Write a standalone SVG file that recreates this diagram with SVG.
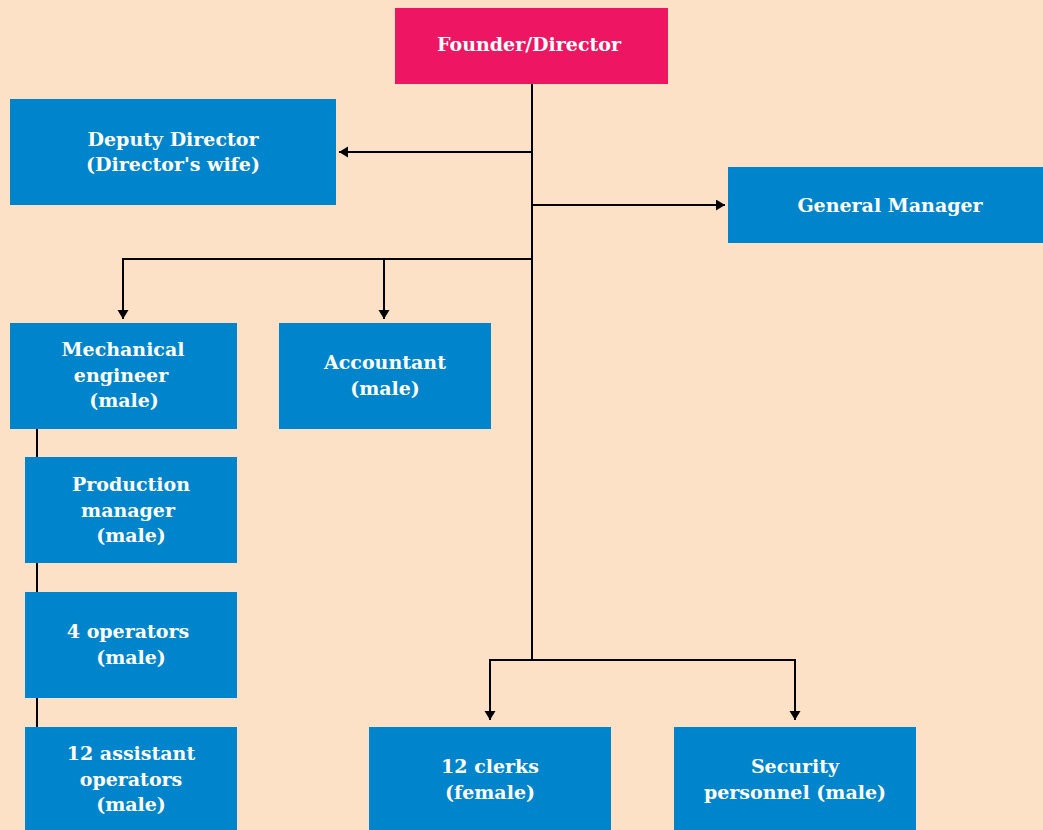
<svg xmlns="http://www.w3.org/2000/svg" width="1043" height="830" viewBox="0 0 1043 830">
<defs>
<style>
.box{fill:#0085CC}
.top{fill:#EE1563}
.t{font-family:"DejaVu Serif","Liberation Serif",serif;font-weight:bold;font-size:19px;fill:#FFFFFF;text-anchor:middle}
.c{fill:none;stroke:#000;stroke-width:2}
</style>
<marker id="ah" markerUnits="userSpaceOnUse" markerWidth="12" markerHeight="12" refX="9" refY="5.5" orient="auto">
<path d="M0,0 L9,5.5 L0,11 z" fill="#000"/>
</marker>
</defs>
<rect width="1043" height="830" fill="#FDE1C6"/>
<g id="connectors">
<path class="c" d="M532,84 V661"/>
<path class="c" d="M532,152 H339" marker-end="url(#ah)"/>
<path class="c" d="M532,205 H725" marker-end="url(#ah)"/>
<path class="c" d="M532,259 H123 V319" marker-end="url(#ah)"/>
<path class="c" d="M384,259 V319" marker-end="url(#ah)"/>
<path class="c" d="M532,660 H490 V720" marker-end="url(#ah)"/>
<path class="c" d="M532,660 H795 V720" marker-end="url(#ah)"/>
<path class="c" d="M37,429 V727"/>
</g>
<g id="founder"><rect class="top" x="395" y="8" width="273" height="76"/><text class="t" x="529" y="51">Founder/Director</text></g>
<g id="deputy"><rect class="box" x="10" y="99" width="326" height="106"/><text class="t" x="173" y="146">Deputy Director</text><text class="t" x="173" y="171">(Director's wife)</text></g>
<g id="gm"><rect class="box" x="728" y="167" width="315" height="76"/><text class="t" x="890" y="212">General Manager</text></g>
<g id="mech"><rect class="box" x="10" y="323" width="227" height="106"/><text class="t" x="123" y="356">Mechanical</text><text class="t" x="121" y="382">engineer</text><text class="t" x="124" y="407">(male)</text></g>
<g id="accountant"><rect class="box" x="279" y="323" width="212" height="106"/><text class="t" x="385" y="369">Accountant</text><text class="t" x="385" y="395">(male)</text></g>
<g id="production"><rect class="box" x="25" y="457" width="212" height="106"/><text class="t" x="131" y="491">Production</text><text class="t" x="128" y="517">manager</text><text class="t" x="131" y="542">(male)</text></g>
<g id="operators"><rect class="box" x="25" y="592" width="212" height="106"/><text class="t" x="128" y="638">4 operators</text><text class="t" x="131" y="664">(male)</text></g>
<g id="assistants"><rect class="box" x="25" y="727" width="212" height="103"/><text class="t" x="131" y="760">12 assistant</text><text class="t" x="131" y="786">operators</text><text class="t" x="131" y="811">(male)</text></g>
<g id="clerks"><rect class="box" x="369" y="727" width="242" height="103"/><text class="t" x="490" y="773">12 clerks</text><text class="t" x="490" y="799">(female)</text></g>
<g id="security"><rect class="box" x="674" y="727" width="242" height="103"/><text class="t" x="795" y="773">Security</text><text class="t" x="795" y="799">personnel (male)</text></g>
</svg>
